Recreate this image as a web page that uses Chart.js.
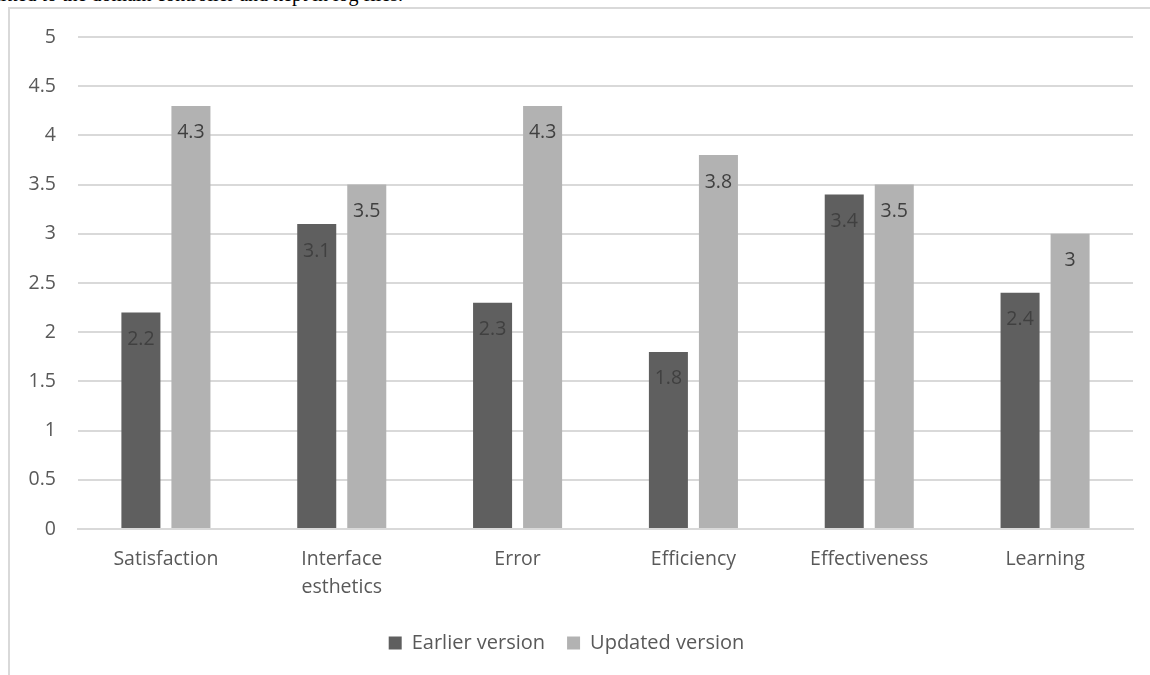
<!DOCTYPE html>
<html>
<head>
<meta charset="utf-8">
<script src="https://cdn.jsdelivr.net/npm/chart.js@4/dist/chart.umd.min.js"></script>
<style>
  html, body { margin: 0; padding: 0; background: #fff; }
  body { width: 1150px; height: 675px; position: relative; overflow: hidden; }
  #caption {
    position: absolute; right: 747px; top: -17px;
    font-family: "Liberation Serif", serif; font-size: 20px; color: #000;
    white-space: nowrap;
  }
  #frame {
    position: absolute; left: 8px; top: 7px; width: 1200px; height: 700px;
    border-left: 2px solid #d9d9d9; border-top: 2px solid #d9d9d9;
  }
  #wrap { position: absolute; left: 0; top: 0; width: 1150px; height: 675px; }
</style>
</head>
<body>
<div id="caption">transmitted to the domain controller and kept in log files.</div>
<div id="frame"></div>
<div id="wrap"><canvas id="chart"></canvas></div>
<script>
const categories = ['Satisfaction', ['Interface', 'esthetics'], 'Error', 'Efficiency', 'Effectiveness', 'Learning']
const earlierVersion = [2.2, 3.1, 2.3, 1.8, 3.4, 2.4]
const updatedVersion = [4.3, 3.5, 4.3, 3.8, 3.5, 3.0]
const seriesNames = ['Earlier version', 'Updated version']
const seriesColors = ['#5f5f5f', '#b2b2b2']

const fontFamily = '"Open Sans", "Noto Sans", sans-serif'
const fontSize = 19.5
const textColor = '#595959'

// Value labels inside the top of each bar
const barLabels = {
  id: 'barLabels',
  afterDatasetsDraw(chart) {
    const ctx = chart.ctx
    ctx.save()
    ctx.font = fontSize + 'px ' + fontFamily
    ctx.fillStyle = '#404040'
    ctx.textAlign = 'center'
    ctx.textBaseline = 'middle'
    chart.data.datasets.forEach((ds, i) => {
      chart.getDatasetMeta(i).data.forEach((bar, j) => {
        ctx.fillText(String(ds.data[j]), bar.x, bar.y + 27)
      })
    })
    ctx.restore()
  }
}

const config = {
  type: 'bar',
  data: {
    labels: categories,
    datasets: [
      { label: seriesNames[0], data: earlierVersion, backgroundColor: seriesColors[0] },
      { label: seriesNames[1], data: updatedVersion, backgroundColor: seriesColors[1] }
    ]
  },
  options: {
    responsive: true,
    maintainAspectRatio: false,
    animation: false,
    categoryPercentage: 0.569,
    barPercentage: 0.78,
    layout: { padding: { left: 0, right: 17, top: 37, bottom: 12 } },
    plugins: {
      tooltip: { enabled: false },
      legend: {
        position: 'bottom',
        labels: {
          font: { family: fontFamily, size: 20 },
          color: textColor,
          boxWidth: 13,
          boxHeight: 13,
          padding: 22
        }
      }
    },
    scales: {
      x: {
        grid: { display: false },
        border: { color: '#d9d9d9', width: 2 },
        ticks: {
          font: { family: fontFamily, size: fontSize, lineHeight: 1.4 },
          color: textColor,
          padding: 9,
          maxRotation: 0
        },
        afterFit: (scale) => { scale.height = 82 }
      },
      y: {
        min: 0,
        max: 5,
        ticks: {
          stepSize: 0.5,
          font: { family: fontFamily, size: fontSize },
          color: textColor,
          padding: 22,
          callback: (value) => String(value)
        },
        grid: { color: '#d9d9d9', lineWidth: 2, drawTicks: false },
        border: { display: false },
        afterFit: (scale) => { scale.width = 78 }
      }
    }
  },
  plugins: [barLabels]
}

new Chart(document.getElementById('chart'), config)
</script>
</body>
</html>
